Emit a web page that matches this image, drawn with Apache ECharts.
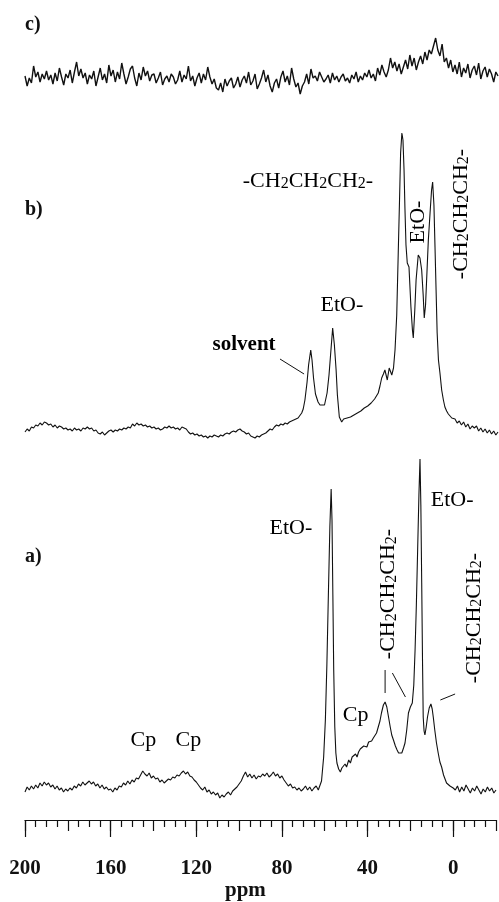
<!DOCTYPE html>
<html>
<head>
<meta charset="utf-8">
<script src="https://cdn.jsdelivr.net/npm/echarts@6/dist/echarts.min.js"></script>
<style>
  html, body { margin: 0; background: #fff; }
  #chart { width: 499px; height: 902px; }
</style>
</head>
<body>
<div id="chart"></div>
<script>
// ppm axis (reversed, 200 on the left)
const ppmMin = -20;
const ppmMax = 200;
const majorTicks = [200, 160, 120, 80, 40, 0];

// c) noise only, one value per ppm from 200 down to -20
const cNoise = [
  4, -6, 2, -3, 14, 3, 8, -2, 6, 1,
  9, 0, 5, -4, 7, -1, 12, 3, -5, 6,
  2, 10, -3, 8, 18, 4, 11, 2, 7, -4,
  5, 1, 9, -6, 3, 12, 0, 6, -3, 15,
  4, 10, -2, 8, 1, 17, 6, -4, 3, 11,
  14, 2, -6, 7, 0, 13, 4, 9, -1, 5,
  6, -3, 2, 8, -5, 1, 4, -2, 6, 3,
  -4, 0, 9, -2, 5, 1, 14, -1, 4, -6,
  2, 7, -3, 6, 0, 13, 3, -4, 1, -8,
  -10, -3, -12, 1, -6, -1, 2, -8, -4, 3,
  -7, 0, 4, -3, 8, -5, -1, 6, -9, -4,
  2, 10, -2, 5, -6, -12, -3, 1, -8, 3,
  9, -2, 4, -5, 12, 1, -7, -3, -14, -6,
  -2, 6, -4, 11, 2, 4, -1, 8, 3, -2,
  1, 5, -3, 7, 0, 4, -2, 3, 6, -1,
  2, -3, 5, 1, 8, -2, 4, 0, 7, 3,
  10, 2, 6, -1, 12, 5, 15, 8, 3, 10,
  22, 12, 18, 9, 16, 6, 13, 20, 11, 25,
  14, 22, 10, 18, 24, 16, 28, 20, 30, 26,
  34, 42, 30, 24, 36, 18, 22, 12, 20, 8,
  15, 6, 18, 3, 12, 7, 16, 2, 10, 14, 5,
  17, 1, 9, 13, 3, 11, 6, -2, 8, 4
];

// b) baseline 200..73 ppm (step 1), peak region, tail 0..-20 ppm
const bLeft = [
  -2, 1, -1, 3, 2, 5, 4, 7, 5, 8,
  7, 5, 6, 3, 5, 2, 4, 3, 1, 2,
  0, 1, -1, 2, 0, 1, -1, 2, 1, 3,
  1, 2, -1, 0, -3, -4, -2, -5, -3, -1,
  0, -2, 0, -1, 1, 0, 2, 1, 3, 2,
  6, 4, 7, 5, 6, 4, 5, 3, 4, 2,
  3, 1, 2, 0, 1, 3, 2, 4, 2, 3,
  1, 2, 0, 3, 2, 1, -2, -4, -3, -5,
  -4, -6, -5, -7, -6, -8, -6, -7, -5, -6,
  -7, -5, -6, -4, -3, -4, -2, -1, -2, 0,
  1, -1, -2, -4, -3, -6, -7, -8, -6, -7,
  -5, -4, -3, -1, 1, 0, 3, 5, 4, 6,
  5, 7, 6, 8, 9, 10, 11, 12
];
const bPeaks = [
  [72.1, 13], [71.3, 17], [70.6, 21], [69.8, 30], [68.8, 48], [68.1, 65],
  [67.1, 80], [66.5, 70], [65.8, 52], [64.9, 36], [63.7, 28], [62.8, 25],
  [61.9, 23], [60.7, 25], [59.5, 37], [58.6, 55], [57.7, 80], [56.9, 102],
  [56.1, 85], [55.3, 60], [54.7, 35], [53.8, 13], [52.7, 8], [51.8, 11],
  [51, 9], [50.2, 12], [49.4, 10], [48.6, 13], [47.8, 12], [47, 15],
  [46.2, 13], [45.4, 17], [44.6, 16], [43.8, 19], [43, 18], [42.2, 22],
  [41.4, 20], [40.6, 24], [39.8, 23], [39, 27], [38.2, 26], [37.4, 31],
  [36.6, 30], [35.7, 37], [34.9, 44], [34.1, 52], [33.3, 56], [32.6, 60],
  [31.5, 50], [30.6, 62], [29.4, 55], [28.6, 62], [27.9, 80], [27.1, 115],
  [26.4, 177], [25.8, 230], [25.3, 277], [24.7, 297], [24.2, 290], [23.7, 260],
  [23.3, 223], [22.8, 185], [22.2, 167], [21.4, 163], [20.5, 123], [19.8, 100],
  [19.4, 92], [18.7, 120], [18.1, 150], [17.1, 175], [16.3, 172], [15.5, 160],
  [14.8, 135], [14.3, 112], [13.7, 125], [13.2, 150], [12.4, 190], [11.6, 217],
  [10.9, 240], [10.4, 248], [9.8, 225], [9.3, 183], [8.8, 140], [8.3, 97],
  [7.7, 70], [7.0, 57], [6.2, 40], [5.4, 30], [4.7, 23], [3.9, 19],
  [3.1, 16], [2.3, 17], [1.5, 12], [0.8, 10]
];
const bRight = [11, 7, 9, 5, 8, 3, 6, 1, 4, 2, 4, -1, 2, -2, 1, -3, 0, -4, -1, -5, -2];

// a) baseline 200..63 ppm (step 1), peak region, tail -1..-20 ppm
const aLeft = [
  3, 8, 5, 9, 6, 10, 7, 12, 9, 13,
  10, 12, 8, 10, 6, 9, 5, 7, 3, 6,
  4, 7, 5, 9, 7, 11, 9, 13, 10, 12,
  14, 11, 13, 9, 11, 7, 10, 6, 8, 5,
  6, 3, 7, 5, 9, 8, 12, 10, 14, 11,
  15, 13, 17, 16, 20, 24, 21, 19, 22, 17,
  19, 16, 17, 13, 15, 12, 14, 16, 15, 18,
  17, 20, 19, 22, 24, 21, 23, 19, 18, 15,
  13, 10, 7, 5, 8, 3, 5, 1, 3, 0,
  2, -3, 0, -2, 1, 3, 0, 4, 6, 8,
  11, 14, 19, 23, 18, 21, 17, 20, 16, 19,
  18, 21, 19, 22, 18, 20, 23, 19, 21, 17,
  19, 15, 12, 9, 11, 7, 8, 5, 7, 4,
  6, 9, 5, 8, 4, 7, 9, 5
];
const aPeaks = [
  [62.3, 6], [61.5, 14], [60.5, 38], [59.7, 75], [59.0, 130], [58.3, 200],
  [57.6, 268], [57.0, 306], [56.6, 275], [56.2, 200], [55.8, 125], [55.3, 68],
  [54.8, 42], [54.3, 32], [53.5, 26], [52.7, 23], [52, 27], [51.2, 25],
  [50.5, 31], [49.8, 28], [48.8, 35], [48, 32], [47.2, 38], [46.4, 36],
  [45.6, 41], [44.9, 38], [44.2, 43], [43.4, 46], [42.6, 44], [41.8, 49],
  [41.1, 50], [40.3, 48], [39.5, 53], [38.8, 51], [38.1, 54], [37.3, 57],
  [36.5, 56], [35.8, 62], [35, 68], [34.2, 74], [33.5, 82], [32.6, 90],
  [31.8, 93], [31, 88], [30.2, 78], [29.4, 68], [28.7, 60], [27.9, 55],
  [27, 49], [26.2, 45], [25.5, 42], [24.8, 40], [24, 42], [23.2, 47],
  [22.5, 52], [21.7, 65], [20.9, 82], [20, 88], [19.1, 92], [18.4, 110],
  [17.8, 145], [17.2, 190], [16.6, 245], [16, 300], [15.5, 336], [15.1, 290],
  [14.7, 212], [14.3, 130], [14.0, 78], [13.6, 64], [13.2, 60], [12.6, 68],
  [12.0, 78], [11.2, 87], [10.4, 91], [9.8, 86], [9.3, 78], [8.6, 65],
  [7.8, 52], [7.0, 42], [6.2, 33], [5.4, 28], [4.5, 20], [3.8, 16],
  [3.1, 12], [2.3, 14], [1.5, 9], [0.7, 11], [0, 7]
];
const aRight = [5, 9, 3, 8, 4, 10, 6, 2, 7, 4, 9, 5, 1, 6, 3, 8, 4, 7, 2, 5];

const CH = "{n|-CH}{s|2}{n|CH}{s|2}{n|CH}{s|2}{n|-}";

// annotations in data units: [ppm, intensity]
const bNotes = [
  { ppm: 68.4, val: 249, text: CH },
  { ppm: 52.6, val: 125, text: "{n|EtO-}" },
  { ppm: 98.1, val: 85, text: "{b|solvent}" },
  { ppm: 17.2, val: 208, text: "{n|EtO-}", rot: 90 },
  { ppm: -2.8, val: 216, text: CH, rot: 90 },
];
const bLines = [[81.4, 71, 70.2, 56]];

const aNotes = [
  { ppm: 75.8, val: 267, text: "{n|EtO-}" },
  { ppm: 0.5, val: 295, text: "{n|EtO-}" },
  { ppm: 45.6, val: 80, text: "{n|Cp}" },
  { ppm: 144.7, val: 55, text: "{n|Cp}" },
  { ppm: 123.7, val: 55, text: "{n|Cp}" },
  { ppm: 30.2, val: 201, text: CH, rot: 90 },
  { ppm: -9.8, val: 177, text: CH, rot: 90 },
];
const aLines = [
  [31.8, 125, 31.8, 102],
  [28.4, 122, 22.3, 98],
  [6.0, 95, -0.9, 101],
];

function toPairs(vals, start) {
  return vals.map((v, i) => [start - i, v]);
}

const serif = "'Liberation Serif', 'DejaVu Serif', serif";
const rich = {
  n: { fontFamily: serif, fontSize: 22, color: "#111" },
  s: { fontFamily: serif, fontSize: 16, color: "#111", verticalAlign: "bottom", padding: [6, 0, 0, 0] },
  b: { fontFamily: serif, fontSize: 21, fontWeight: "bold", color: "#111" },
};

const chart = echarts.init(document.getElementById("chart"), null, { renderer: "canvas" });

const hiddenX = (grid) => ({
  type: "value", gridIndex: grid, min: ppmMin, max: ppmMax, inverse: true, show: false,
});
const hiddenY = (grid, min, max) => ({
  type: "value", gridIndex: grid, min: min, max: max, show: false,
});
const lineSeries = (idx, data, width) => ({
  type: "line",
  xAxisIndex: idx,
  yAxisIndex: idx,
  data: data,
  showSymbol: false,
  lineStyle: { color: "#111", width: width },
  silent: true,
});

const tickStyle = { color: "#111", width: 1.2 };

const option = {
  backgroundColor: "#fff",
  animation: false,
  grid: [
    { left: 25, right: 1, top: 30, height: 80 },
    { left: 25, right: 1, top: 120, height: 330 },
    { left: 25, right: 1, top: 440, height: 380 },
  ],
  xAxis: [
    hiddenX(0),
    hiddenX(1),
    {
      type: "value",
      gridIndex: 2,
      position: "bottom",
      min: ppmMin,
      max: ppmMax,
      interval: 20,
      inverse: true,
      axisLine: { onZero: false, lineStyle: tickStyle },
      axisTick: { length: 11, lineStyle: tickStyle },
      minorTick: { show: true, splitNumber: 4, length: 7, lineStyle: tickStyle },
      splitLine: { show: false },
      axisLabel: {
        margin: 38,
        fontFamily: serif,
        fontSize: 21,
        fontWeight: "bold",
        color: "#111",
        formatter: (v) => (v % 40 === 0 ? String(v) : ""),
      },
    },
    {
      type: "value",
      gridIndex: 2,
      position: "bottom",
      offset: 0,
      min: ppmMin,
      max: ppmMax,
      inverse: true,
      axisLine: { show: false, onZero: false },
      axisTick: { show: true, length: 17, customValues: majorTicks, lineStyle: tickStyle },
      axisLabel: { show: false },
      splitLine: { show: false },
    },
  ],
  yAxis: [hiddenY(0, -30, 50), hiddenY(1, -20, 310), hiddenY(2, -25, 355)],
  series: [
    lineSeries(0, toPairs(cNoise, 200), 1.4),
    lineSeries(1, [...toPairs(bLeft, 200), ...bPeaks, ...toPairs(bRight, 0)], 1.1),
    lineSeries(2, [...toPairs(aLeft, 200), ...aPeaks, ...toPairs(aRight, -1)], 1.1),
  ],
};

chart.setOption(option);

// annotations placed through the axes
function noteGraphics(axis, notes, lines) {
  const out = [];
  notes.forEach((n) => {
    const p = chart.convertToPixel({ xAxisIndex: axis, yAxisIndex: axis }, [n.ppm, n.val]);
    out.push({
      type: "text",
      x: p[0],
      y: p[1],
      rotation: n.rot ? (n.rot * Math.PI) / 180 : 0,
      style: { text: n.text, rich: rich, align: "center", verticalAlign: "middle" },
    });
  });
  lines.forEach((l) => {
    const p1 = chart.convertToPixel({ xAxisIndex: axis, yAxisIndex: axis }, [l[0], l[1]]);
    const p2 = chart.convertToPixel({ xAxisIndex: axis, yAxisIndex: axis }, [l[2], l[3]]);
    out.push({
      type: "line",
      shape: { x1: p1[0], y1: p1[1], x2: p2[0], y2: p2[1] },
      style: { stroke: "#111", lineWidth: 1 },
    });
  });
  return out;
}

const panelFont = "bold 20px " + serif;
chart.setOption({
  graphic: [
    { type: "text", left: 25, top: 15, style: { text: "c)", font: panelFont, fill: "#111" } },
    { type: "text", left: 25, top: 200, style: { text: "b)", font: panelFont, fill: "#111" } },
    { type: "text", left: 25, top: 547, style: { text: "a)", font: panelFont, fill: "#111" } },
    { type: "text", left: 225, top: 880, style: { text: "ppm", font: "bold 21px " + serif, fill: "#111" } },
    ...noteGraphics(1, bNotes, bLines),
    ...noteGraphics(2, aNotes, aLines),
  ],
});
</script>
</body>
</html>
